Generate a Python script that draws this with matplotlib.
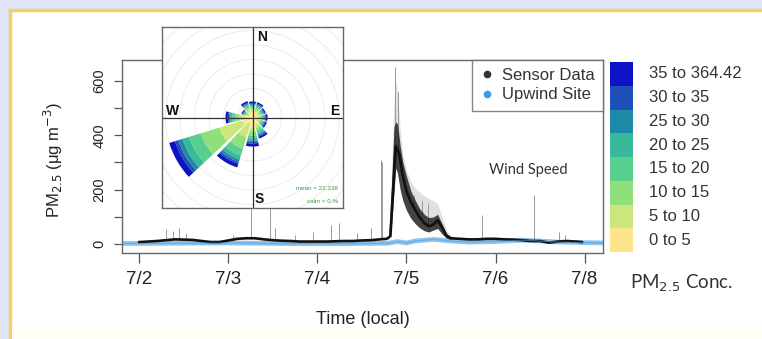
#!/usr/bin/env python3
"""PM2.5 sensor time series with an inset pollution rose."""

import numpy as np
import matplotlib.pyplot as plt
from matplotlib.patches import Rectangle, Wedge, Circle
from matplotlib.lines import Line2D

plt.rcParams['font.family'] = ['Liberation Sans', 'DejaVu Sans']

# time axis: days since 7/2 00:00 (local)
sensor_t = [0.0, 0.1, 0.2, 0.3, 0.4, 0.5, 0.6, 0.7, 0.8, 0.9,
            1.0, 1.1, 1.2, 1.3, 1.4, 1.5, 1.6, 1.7, 1.8, 1.9,
            2.0, 2.1, 2.2, 2.3, 2.4, 2.5, 2.6, 2.7, 2.78, 2.82,
            2.85, 2.88, 2.92, 2.96, 3.0, 3.05, 3.1, 3.15, 3.2, 3.25,
            3.3, 3.35, 3.4, 3.45, 3.5, 3.6, 3.7, 3.8, 3.9, 4.0,
            4.1, 4.2, 4.3, 4.4, 4.5, 4.6, 4.7, 4.8, 4.9, 4.97]
sensor_pm = [8, 10, 12, 15, 18, 17, 16, 12, 8, 8,
             14, 20, 22, 22, 18, 15, 13, 12, 10, 10,
             10, 10, 11, 12, 12, 14, 15, 18, 20, 30,
             200, 360, 330, 250, 195, 155, 125, 98, 78, 66,
             72, 88, 62, 32, 22, 20, 18, 18, 20, 20,
             18, 17, 15, 12, 12, 6, 10, 12, 10, 8]

# spread of the sensor bundle during the 7/4-7/5 smoke event
band_t = [2.80, 2.83, 2.86, 2.88, 2.90, 2.93, 2.96, 3.00, 3.05,
          3.10, 3.15, 3.20, 3.25, 3.30, 3.35, 3.40, 3.45, 3.50]
band_lo = [18, 60, 190, 280, 260, 200, 160, 125, 95,
           75, 60, 50, 45, 52, 58, 38, 22, 18]
band_hi = [28, 200, 430, 450, 440, 360, 300, 250, 195,
           160, 130, 110, 98, 100, 110, 75, 38, 25]
# faint upper haze of the individual noisy sensors
haze_hi = [30, 250, 520, 600, 560, 420, 330, 270, 230,
           205, 190, 178, 168, 160, 150, 100, 50, 30]

# single-sensor spikes
spike_t = [0.30, 0.38, 0.45, 0.52, 1.05, 1.25, 1.47, 1.52, 1.75, 1.95,
           2.15, 2.24, 2.45, 2.60, 2.71, 2.73, 2.87, 2.90, 3.08, 3.18,
           3.24, 3.85, 4.43, 4.71, 4.78]
spike_pm = [55, 48, 60, 40, 35, 150, 250, 60, 35, 45,
            70, 78, 40, 60, 310, 300, 650, 560, 180, 160,
            150, 107, 180, 45, 35]

upwind_t = [-0.19, 0.0, 0.5, 1.0, 1.5, 2.0, 2.5, 2.8, 2.9, 3.0,
            3.1, 3.3, 3.5, 3.7, 4.0, 4.3, 4.5, 4.7, 5.0, 5.21]
upwind_pm = [3, 3, 4, 5, 3, 2, 3, 4, 10, 5,
             12, 18, 12, 8, 10, 15, 12, 8, 6, 5]

day_ticks = [0, 1, 2, 3, 4, 5]
day_labels = ["7/2", "7/3", "7/4", "7/5", "7/6", "7/8"]

# pollution rose: wind directions (deg) and % contribution per conc. bin
rose_dirs = [0, 30, 60, 90, 120, 150, 180, 210, 240, 270, 300, 330]
conc_labels = ["0 to 5", "5 to 10", "10 to 15", "15 to 20",
               "20 to 25", "25 to 30", "30 to 35", "35 to 364.42"]
conc_colors = ["#fde68a", "#cbe67c", "#8fe07a", "#58cf8e",
               "#38b99b", "#1f8aa8", "#1f4fb8", "#0d12c4"]
rose_0_5 = [2.0, 2.0, 1.7, 1.8, 1.8, 2.7, 3.5, 2.2, 3.6, 2.5, 1.4, 2.1]
rose_5_10 = [0.8, 0.8, 0.7, 0.8, 0.8, 1.1, 1.5, 5.0, 8.4, 2.0, 0.6, 0.9]
rose_10_15 = [0.7, 0.7, 0.6, 0.6, 0.6, 0.9, 1.2, 4.0, 6.6, 1.5, 0.5, 0.7]
rose_15_20 = [0.5, 0.5, 0.5, 0.5, 0.5, 0.8, 1.0, 2.5, 4.2, 1.0, 0.4, 0.6]
rose_20_25 = [0.4, 0.4, 0.4, 0.4, 0.4, 0.6, 0.8, 1.4, 2.4, 0.7, 0.3, 0.4]
rose_25_30 = [0.3, 0.3, 0.2, 0.3, 0.3, 0.4, 0.5, 0.9, 1.5, 0.4, 0.2, 0.3]
rose_30_35 = [0.3, 0.3, 0.3, 0.3, 0.3, 0.4, 0.5, 0.7, 1.2, 0.4, 0.2, 0.3]
rose_35_up = [0.5, 0.5, 0.4, 0.5, 0.5, 0.7, 1.0, 1.3, 2.1, 0.8, 0.4, 0.6]
rose_bins = [rose_0_5, rose_5_10, rose_10_15, rose_15_20,
             rose_20_25, rose_25_30, rose_30_35, rose_35_up]
rose_grid = [5, 10, 15, 20, 25, 30, 35, 40]
rose_mean = 22.338
rose_calm = 0


def main():
    W, H = 762, 339
    fig = plt.figure(figsize=(W / 100, H / 100), dpi=100)
    fig.patch.set_facecolor("#dfe5f6")

    def box(x0, y0, x1, y1):
        """pixel box (top-left origin) -> figure fraction rect"""
        return [x0 / W, 1 - y1 / H, (x1 - x0) / W, (y1 - y0) / H]

    # slide panel, kept behind every axes
    fig.add_artist(Rectangle((10 / W, -0.1), 1.0, 1 - 10 / H + 0.1,
                             transform=fig.transFigure, facecolor="white",
                             edgecolor="#efcf6e", linewidth=2.5, zorder=-10))
    fig.add_artist(Rectangle((12 / W, 0), 1.0, 14 / H,
                             transform=fig.transFigure, facecolor="#fffef4",
                             edgecolor="none", zorder=-9))

    # main time series
    ax = fig.add_axes(box(122, 60, 603, 253))
    ax.plot(upwind_t, upwind_pm, color="#8cc3ef", lw=3.4, zorder=2,
            solid_capstyle="butt")
    base = np.interp(spike_t, sensor_t, sensor_pm)
    ax.vlines(spike_t, base, spike_pm, color="#8a8a8a", lw=0.6, zorder=3)
    ax.fill_between(band_t, band_lo, haze_hi, color="#9a9a9a", alpha=0.3,
                    lw=0, zorder=3)
    ax.fill_between(band_t, band_lo, band_hi, color="#1c1c1c", alpha=0.8,
                    lw=0, zorder=4)
    ax.plot(sensor_t, sensor_pm, color="#111111", lw=1.9, zorder=5)
    ax.plot(upwind_t, upwind_pm, color="#5a9bd6", lw=0.8, alpha=0.6, zorder=6)

    ax.set_xlim(-0.194, 5.207)
    ax.set_ylim(-32, 676)
    ax.set_xticks(day_ticks)
    ax.set_xticklabels(day_labels)
    ax.set_yticks(range(0, 700, 100))
    ax.set_yticklabels(["0", "", "200", "", "400", "", "600"],
                       rotation=90, va="center")
    ax.tick_params(axis="x", length=7, width=0.9, pad=6, labelsize=13.5,
                   colors="#555555", labelcolor="#222222")
    ax.tick_params(axis="y", length=6, width=0.9, pad=5, labelsize=10.5,
                   colors="#555555", labelcolor="#222222")
    for s in ax.spines.values():
        s.set_color("#666666")
        s.set_linewidth(1.0)
    ax.set_xlabel("Time (local)", fontsize=13, color="#222222")
    ax.xaxis.set_label_coords(0.5, -0.30)
    ax.set_ylabel("PM$_{2.5}$ (μg m$^{-3}$)", fontsize=12, color="#222222")
    ax.yaxis.set_label_coords(-0.118, 0.48)

    handles = [Line2D([], [], ls="none", marker="o", ms=4.5, color="#333333"),
               Line2D([], [], ls="none", marker="o", ms=4.5, color="#3d9be9")]
    leg = ax.legend(handles, ["Sensor Data", "Upwind Site"], loc="upper right",
                    borderaxespad=0, fancybox=False, fontsize=12,
                    handlelength=0.8, handletextpad=0.5, labelspacing=0.25,
                    borderpad=0.5, labelcolor="#333333")
    leg.get_frame().set_edgecolor("#666666")
    leg.get_frame().set_linewidth(1.0)

    ax.text(0.845, 0.43, "Wind Speed", transform=ax.transAxes,
            family="Lato", fontsize=10.5, color="#333333",
            ha="center", va="center")

    # inset pollution rose
    rax = fig.add_axes(box(162, 27, 343, 208))
    lim = 31.2
    rax.set_xlim(-lim, lim)
    rax.set_ylim(-lim, lim)
    rax.set_xticks([])
    rax.set_yticks([])
    for s in rax.spines.values():
        s.set_color("#666666")
        s.set_linewidth(1.0)
    rax.set_zorder(10)
    rax.set_facecolor("white")
    for r in rose_grid:
        rax.add_patch(Circle((0, 0), r, fill=False, ec="#ececec", lw=0.7))
    half = 13
    cum = np.zeros(len(rose_dirs))
    for vals, col in zip(rose_bins, conc_colors):
        for i, d in enumerate(rose_dirs):
            a = 90 - d
            rax.add_patch(Wedge((0, 0), cum[i] + vals[i], a - half, a + half,
                                width=vals[i], facecolor=col, lw=0))
        cum += np.array(vals)
    rax.axhline(0, color="#333333", lw=0.9)
    rax.axvline(0, color="#333333", lw=0.9)
    kw = dict(fontsize=10, fontweight="bold", color="#111111",
              ha="center", va="center")
    rax.text(3.4, 27.8, "N", **kw)
    rax.text(2.2, -28.2, "S", **kw)
    rax.text(-27.4, 2.4, "W", **kw)
    rax.text(28.4, 2.4, "E", **kw)
    rax.text(29.5, -24.6, f"mean = {rose_mean}", fontsize=4.5,
             color="#3a9a3a", ha="right", va="center")
    rax.text(29.5, -28.8, f"calm = {rose_calm} %", fontsize=4.5,
             color="#3a9a3a", ha="right", va="center")

    # concentration key
    cax = fig.add_axes(box(610, 62, 633, 252))
    for i, col in enumerate(conc_colors):
        cax.bar(0, 1, bottom=i, width=1, color=col, lw=0)
    cax.set_xlim(-0.5, 0.5)
    cax.set_ylim(0, len(conc_colors))
    cax.axis("off")
    for i, lab in enumerate(conc_labels):
        cax.text(1.2, i + 0.5, lab, transform=cax.transData, fontsize=12,
                 color="#333333", ha="left", va="center")
    fig.text(682 / W, 1 - 283 / H, "PM$_{2.5}$ Conc.", family="Lato",
             fontsize=13.5, color="#333333", ha="center", va="center")

    fig.savefig("out.png", dpi=100, facecolor=fig.get_facecolor())


if __name__ == "__main__":
    main()
